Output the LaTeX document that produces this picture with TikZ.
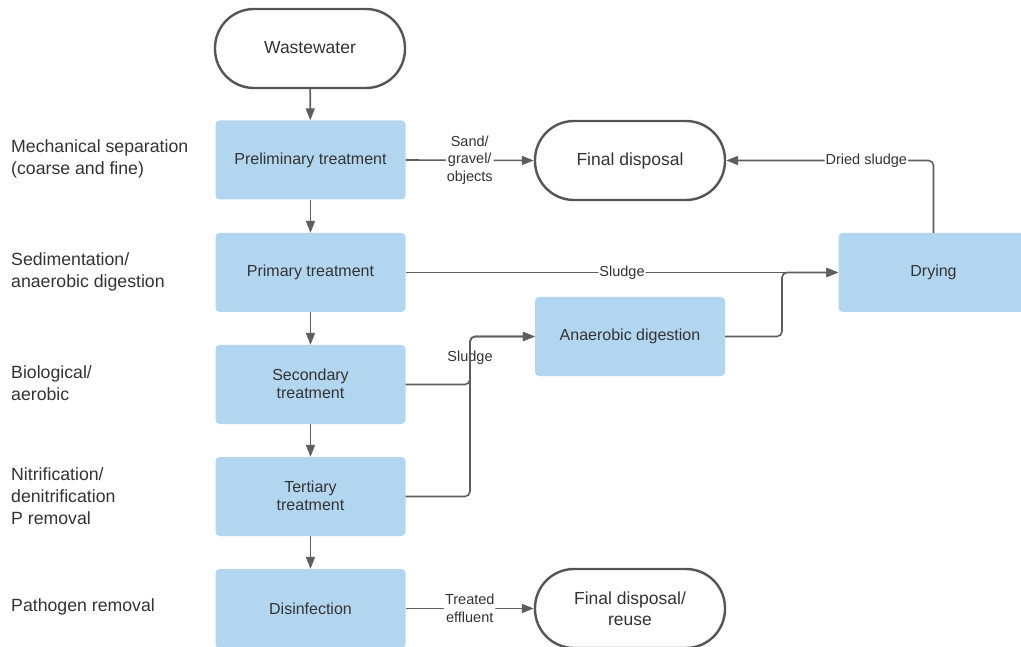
\documentclass[tikz,border=0pt]{standalone}
\usepackage{fontspec}
\setmainfont{Liberation Sans}
\usetikzlibrary{arrows.meta}
\definecolor{boxblue}{HTML}{B3D6F0}
\definecolor{txt}{HTML}{333333}
\definecolor{linec}{HTML}{5E5E5E}
\definecolor{termc}{HTML}{555555}
\tikzset{
  proc/.style={rectangle, rounded corners=4pt, fill=boxblue, minimum width=190pt, minimum height=79pt, align=center, font=\fontsize{16}{19.5}\selectfont, text=txt, inner sep=0pt},
  term/.style={rectangle, rounded corners=39pt, draw=termc, line width=2.4pt, fill=white, minimum width=190pt, minimum height=79pt, align=center, font=\fontsize{17.5}{21}\selectfont, text=txt, inner sep=0pt},
  side/.style={anchor=west, align=left, font=\fontsize{17.7}{22}\selectfont, text=txt, inner sep=0pt},
  elabel/.style={fill=white, inner sep=1pt, align=center, font=\fontsize{14.5}{17.5}\selectfont, text=txt},
  conn/.style={draw=linec, line width=1.6pt, rounded corners=5pt, -{Triangle[length=12pt,width=9pt]}}
}
\begin{document}
\begin{tikzpicture}[x=1pt,y=-1pt]
\useasboundingbox (0,0) rectangle (1021,647);
% main column
\node[term] (ww) at (310,48.5) {\raisebox{1.5pt}{Wastewater}};
\node[proc] (pre) at (310.5,160) {Preliminary treatment};
\node[proc] (prim) at (310.5,272.5) {Primary treatment};
\node[proc] (sec) at (310.5,384.5) {\raisebox{1.5pt}{\shortstack{Secondary\\[2pt]treatment}}};
\node[proc] (ter) at (310.5,496.5) {\raisebox{1.5pt}{\shortstack{Tertiary\\[2pt]treatment}}};
\node[proc] (dis) at (310.5,608.5) {Disinfection};
% right side
\node[term] (fd) at (630,160.5) {Final disposal};
\node[proc] (ana) at (630,336.5) {Anaerobic digestion};
\node[proc] (dry) at (933.5,272.5) {Drying};
\node[term] (fdr) at (630,608.5) {Final disposal/\\reuse};
% side labels
\node[side] (l1) at (11,159) {Mechanical separation\\(coarse and fine)};
\node[side] (l2) at (11,272) {Sedimentation/\\anaerobic digestion};
\node[side] (l3) at (11,383) {Biological/\\aerobic};
\node[side] (l4) at (11,496) {Nitrification/\\denitrification\\P removal};
\node[side] (l5) at (11,607) {Pathogen removal};
% junctions
\coordinate (j1) at (782,272.5);
\coordinate (j2) at (470,336.5);
% connectors
\draw[conn] (ww) -- (pre);
\draw[conn] (pre) -- (prim);
\draw[conn] (prim) -- (sec);
\draw[conn] (sec) -- (ter);
\draw[conn] (ter) -- (dis);
\draw[conn] (pre.east) -- node[elabel]{Sand/\\gravel/\\objects} (fd.west);
\draw[conn] (prim.east) -- node[elabel]{Sludge} (dry.west);
\draw[conn] (ana.east) -| (j1) -- (dry.west);
\draw[conn] (sec.east) -| node[elabel, pos=0.78]{Sludge} (j2) -- (ana.west);
\draw[conn] (ter.east) -| (j2) -- (ana.west);
\draw[conn] (dry.north) |- node[elabel, pos=0.662]{Dried sludge} (fd.east);
\draw[conn] (dis.east) -- node[elabel]{Treated\\effluent} (fdr.west);
\end{tikzpicture}
\end{document}
